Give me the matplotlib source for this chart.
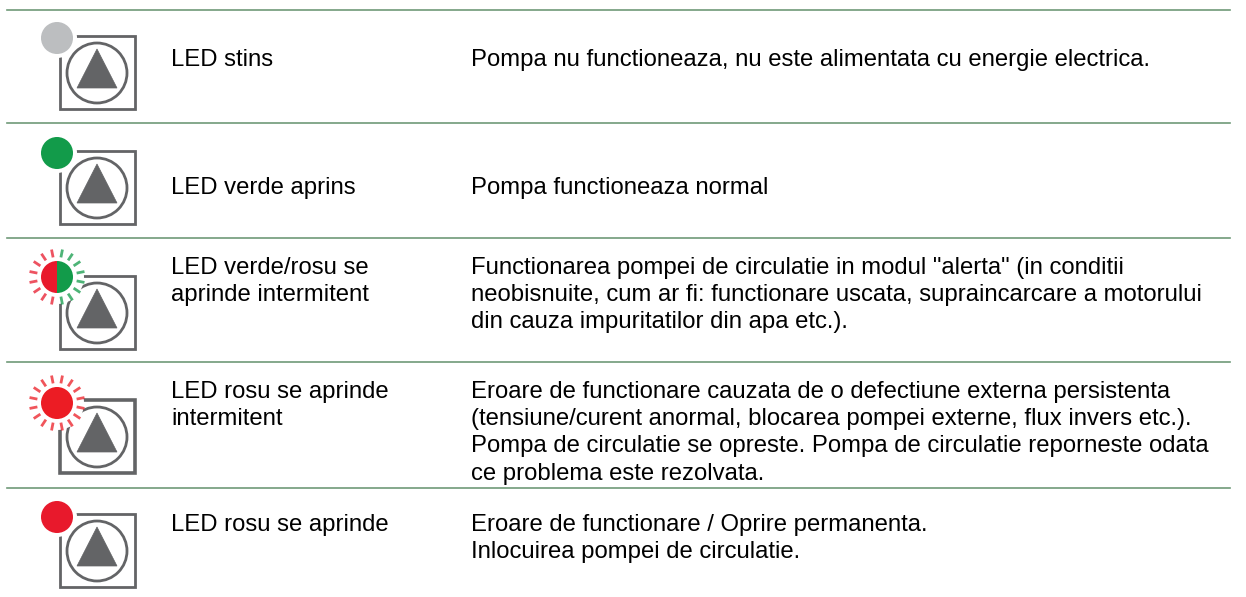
import numpy as np
import matplotlib
matplotlib.use('Agg')
import matplotlib.pyplot as plt
from matplotlib.patches import Circle, Polygon, Rectangle, Wedge

W, H = 1246, 597

states = ['LED stins', 'LED verde aprins', 'LED verde/rosu se\naprinde intermitent',
          'LED rosu se aprinde\nintermitent', 'LED rosu se aprinde']
descriptions = [
    'Pompa nu functioneaza, nu este alimentata cu energie electrica.',
    'Pompa functioneaza normal',
    'Functionarea pompei de circulatie in modul "alerta" (in conditii\n'
    'neobisnuite, cum ar fi: functionare uscata, supraincarcare a motorului\n'
    'din cauza impuritatilor din apa etc.).',
    'Eroare de functionare cauzata de o defectiune externa persistenta\n'
    '(tensiune/curent anormal, blocarea pompei externe, flux invers etc.).\n'
    'Pompa de circulatie se opreste. Pompa de circulatie reporneste odata\n'
    'ce problema este rezolvata.',
    'Eroare de functionare / Oprire permanenta.\n'
    'Inlocuirea pompei de circulatie.',
]
led_left = ['#bcbec0', '#129b4a', '#e8192c', '#ec1c24', '#e8192c']
led_right = ['#bcbec0', '#129b4a', '#129b4a', '#ec1c24', '#e8192c']
blinks = [False, False, True, True, False]
rules = [10, 123, 238, 362, 488]
icon_tops = [36, 151, 276, 400, 514]
led_y = [38, 153, 277, 403, 517]
baselines = [66, 194, 274, 398, 531]
frame_lw = [2.0, 2.0, 2.0, 2.6, 2.0]

GREY = '#636466'
RULE = '#6f9a78'
PITCH = 27.2

def draw_rays(ax, cx, cy, c_l, c_r):
    for a in np.arange(11.25, 360, 22.5):
        rad = np.radians(a)
        col = c_r if np.cos(rad) > 0 else c_l
        ax.plot([cx + 20 * np.cos(rad), cx + 28 * np.cos(rad)],
                [cy + 20 * np.sin(rad), cy + 28 * np.sin(rad)],
                color=col, lw=2.0, alpha=0.75, zorder=5, solid_capstyle='butt')

def draw_icon(ax, i):
    top = icon_tops[i]
    ax.add_patch(Rectangle((60, top), 75, 73, fill=False, ec=GREY, lw=frame_lw[i], zorder=2))
    cx, cy = 97, top + 37
    ax.add_patch(Circle((cx, cy), 30, fill=False, ec=GREY, lw=2.0, zorder=3))
    ax.add_patch(Polygon([(cx, cy - 24), (cx + 20, cy + 15), (cx - 20, cy + 15)],
                         fc=GREY, ec=GREY, lw=0.5, zorder=3))
    lx, ly = 57, led_y[i]
    # white halo cuts the frame corner
    ax.add_patch(Circle((lx, ly), 27 if blinks[i] else 20, fc='white', ec='none', zorder=4))
    if blinks[i]:
        draw_rays(ax, lx, ly, led_left[i], led_right[i])
    ax.add_patch(Wedge((lx, ly), 16, 90, 270, fc=led_left[i], ec='none', zorder=6))
    ax.add_patch(Wedge((lx, ly), 16, 270, 90, fc=led_right[i], ec='none', zorder=6))

def draw_lines(ax, x, y, text):
    for k, line in enumerate(text.split('\n')):
        ax.text(x, y + k * PITCH, line, family='Liberation Sans', fontsize=17.2,
                va='baseline', color='black')

fig = plt.figure(figsize=(W / 100, H / 100), dpi=100)
ax = fig.add_axes([0, 0, 1, 1])
ax.set_xlim(0, W)
ax.set_ylim(H, 0)
ax.axis('off')

for y in rules:
    ax.plot([7, 1230], [y, y], color=RULE, lw=1.2, zorder=1)

for i in range(5):
    draw_icon(ax, i)
    draw_lines(ax, 171, baselines[i], states[i])
    draw_lines(ax, 471, baselines[i], descriptions[i])

fig.savefig('out.png', dpi=100)
